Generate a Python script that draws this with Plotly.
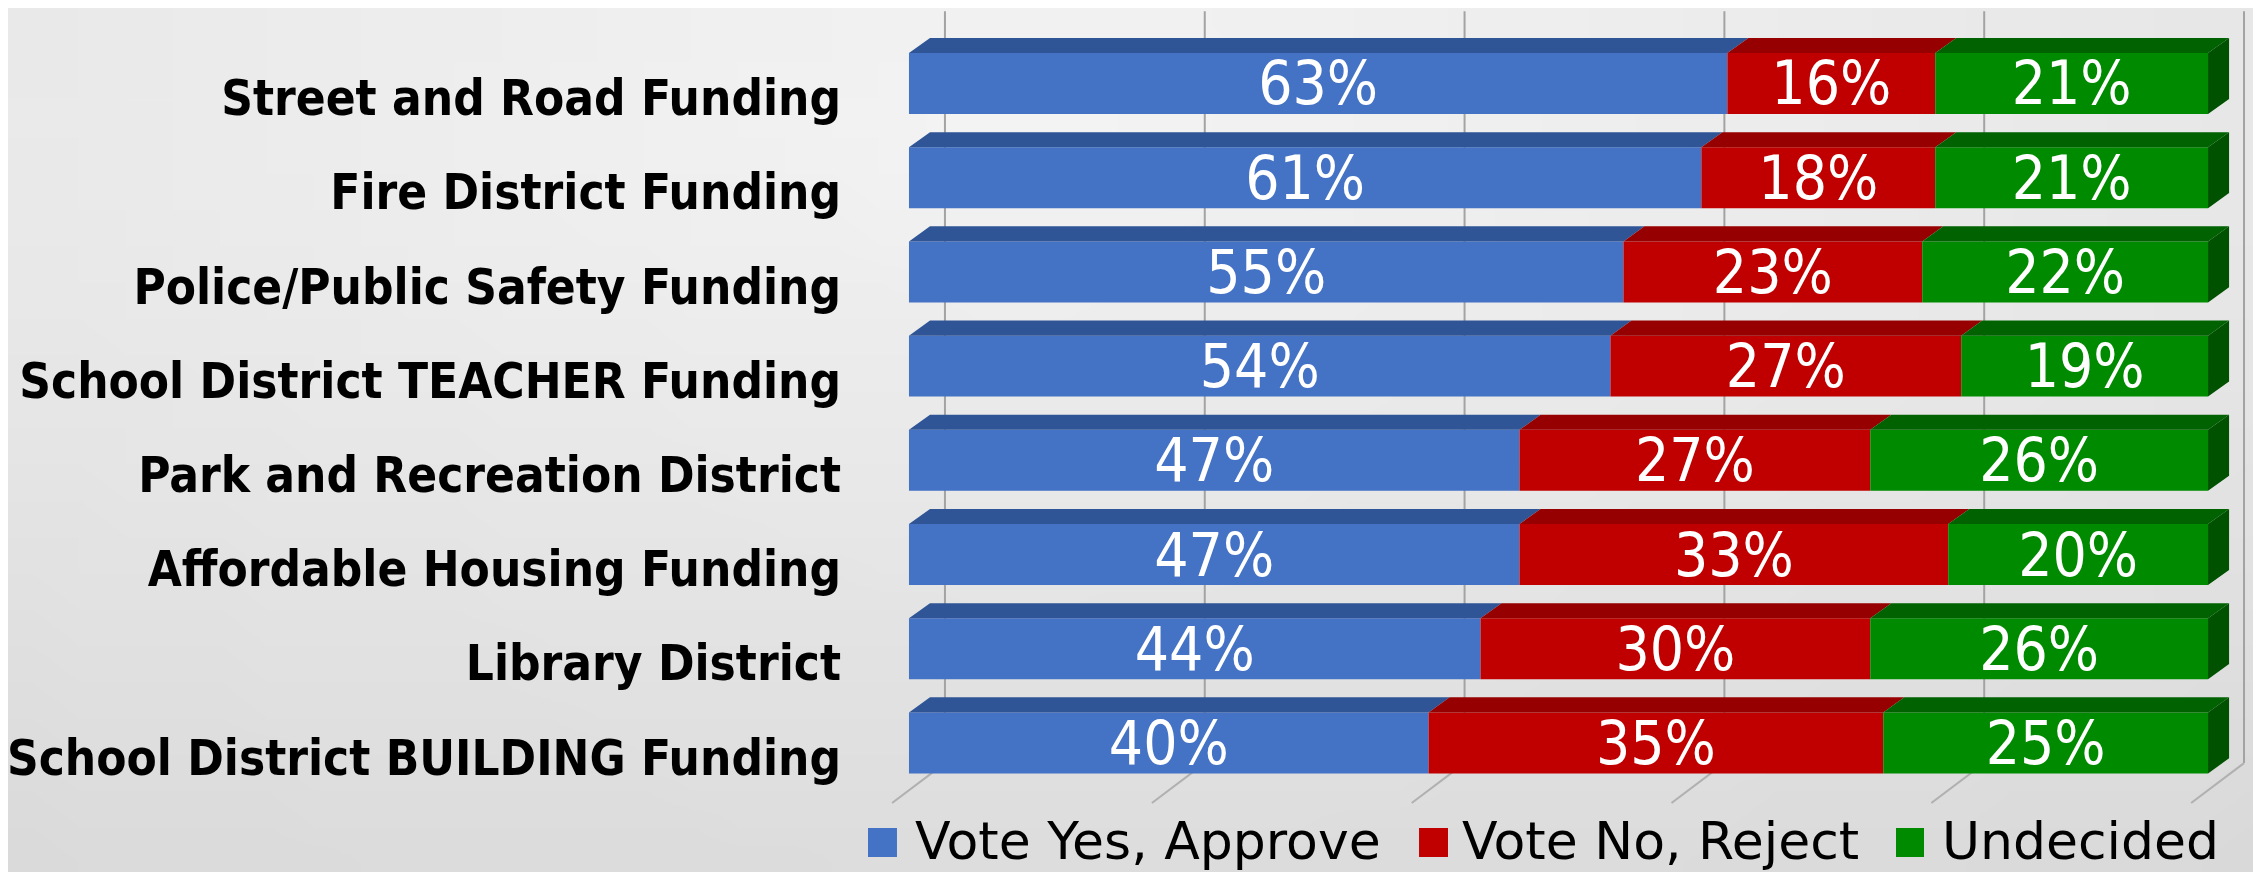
import zlib, struct, base64
import plotly.graph_objects as go

# ---- data ----
categories = ["Street and Road Funding", "Fire District Funding",
              "Police/Public Safety Funding", "School District TEACHER Funding",
              "Park and Recreation District", "Affordable Housing Funding",
              "Library District", "School District BUILDING Funding"]
yes_vals = [63, 61, 55, 54, 47, 47, 44, 40]
no_vals = [16, 18, 23, 27, 27, 33, 30, 35]
undecided_vals = [21, 21, 22, 19, 26, 20, 26, 25]
series_names = ["Vote Yes, Approve", "Vote No, Reject", "Undecided"]
grid_ticks = [0, 20, 40, 60, 80, 100]

# ---- style ----
front_colors = ["#4472C4", "#C00000", "#008A00"]
top_colors = ["#2F5597", "#960000", "#006200"]
side_color = "#005200"
BAR_W = 0.647      # front-face thickness (category units)
BAR_SHIFT = -0.154 # face centre relative to label centre
DEPTH_X = 1.62     # 3D depth offset (value units)
DEPTH_Y = 0.16     # 3D depth offset (category units)
GRID_DX = 2.77
N = len(categories)
pos = list(range(N))
series = [yes_vals, no_vals, undecided_vals]


def gradient_png(w=48, h=24):
    rows = b""
    for j in range(h):
        rows += b"\x00"
        for i in range(w):
            fx, fy = i / (w - 1), j / (h - 1)
            d = ((fx - 0.45) ** 2 * 0.8 + (fy - 0.1) ** 2) ** 0.5
            v = int(round(244 - 26 * d))
            rows += bytes([v, v, v])
    def chunk(t, d):
        c = struct.pack(">I", len(d)) + t + d
        return c + struct.pack(">I", zlib.crc32(t + d) & 0xffffffff)
    png = b"\x89PNG\r\n\x1a\n" + chunk(b"IHDR", struct.pack(">IIBBBBB", w, h, 8, 2, 0, 0, 0))
    png += chunk(b"IDAT", zlib.compress(rows)) + chunk(b"IEND", b"")
    return "data:image/png;base64," + base64.b64encode(png).decode()


fig = go.Figure()

bases = []
acc = [0] * N
for vals in series:
    bases.append(acc[:])
    acc = [a + v for a, v in zip(acc, vals)]

# front faces
for name, vals, base, col in zip(series_names, series, bases, front_colors):
    fig.add_trace(go.Bar(
        x=vals, y=pos, base=base, orientation="h", width=BAR_W,
        offset=BAR_SHIFT - BAR_W / 2, name=name, showlegend=False,
        marker=dict(color=col, line=dict(width=0)),
        text=[f"{v}%" for v in vals], textposition="inside",
        insidetextanchor="middle", constraintext="none",
        textfont=dict(color="white", size=60, family="DejaVu Sans Condensed, DejaVu Sans"),
        hoverinfo="skip"))

# top faces (3D)
for vals, base, col in zip(series, bases, top_colors):
    xs, ys = [], []
    for i, (b, v) in enumerate(zip(base, vals)):
        y0 = i + BAR_SHIFT - BAR_W / 2
        xs += [b, b + v, b + v + DEPTH_X, b + DEPTH_X, b, None]
        ys += [y0, y0, y0 - DEPTH_Y, y0 - DEPTH_Y, y0, None]
    fig.add_trace(go.Scatter(x=xs, y=ys, mode="lines", fill="toself",
                             fillcolor=col, line=dict(width=0, color=col),
                             showlegend=False, hoverinfo="skip"))

# right side face of the last segment
xs, ys = [], []
for i, (b, v) in enumerate(zip(bases[2], undecided_vals)):
    e = b + v
    y0, y1 = i + BAR_SHIFT - BAR_W / 2, i + BAR_SHIFT + BAR_W / 2
    xs += [e, e + DEPTH_X, e + DEPTH_X, e, e, None]
    ys += [y0, y0 - DEPTH_Y, y1 - DEPTH_Y, y1, y0, None]
fig.add_trace(go.Scatter(x=xs, y=ys, mode="lines", fill="toself",
                         fillcolor=side_color, line=dict(width=0, color=side_color),
                         showlegend=False, hoverinfo="skip"))

# gridlines on the back wall + floor slants
shapes = []
for t in grid_ticks:
    shapes.append(dict(type="line", xref="x", yref="y", x0=t + GRID_DX, x1=t + GRID_DX,
                       y0=-0.92, y1=N - 1 + 0.06, layer="below",
                       line=dict(color="#A3A3A3", width=2)))
    shapes.append(dict(type="line", xref="x", yref="y", x0=t + GRID_DX, x1=t - 1.3,
                       y0=N - 1 + 0.06, y1=N - 1 + 0.484, layer="below",
                       line=dict(color="#B0B0B0", width=2)))

# legend (manual, large colour keys)
leg_marker_x = [(-0.0161, 0.0051), (0.3870, 0.4082), (0.7359, 0.7564)]
leg_text_x = [0.0168, 0.4170, 0.7681]
annotations = []
for name, col, (mx0, mx1), tx in zip(series_names, front_colors, leg_marker_x, leg_text_x):
    shapes.append(dict(type="rect", xref="paper", yref="paper", x0=mx0, x1=mx1,
                       y0=-0.0483, y1=-0.0124, fillcolor=col, line=dict(width=0)))
    annotations.append(dict(xref="paper", yref="paper", x=tx, y=-0.0285,
                            xanchor="left", yanchor="middle", showarrow=False, text=name,
                            font=dict(size=52, color="black", family="DejaVu Sans")))

fig.update_layout(
    width=2261, height=872,
    margin=dict(l=882, r=12, t=3, b=62),
    paper_bgcolor="#EAEAEA", plot_bgcolor="rgba(0,0,0,0)",
    barmode="overlay", shapes=shapes, annotations=annotations,
    showlegend=False,
    images=[dict(source=gradient_png(), xref="paper", yref="paper", x=-882 / 1367, y=1 + 3 / 807,
                 sizex=2261 / 1367, sizey=872 / 807, sizing="stretch", layer="below",
                 xanchor="left", yanchor="top")],
    xaxis=dict(range=[-1.46, 103.77], visible=False, fixedrange=True),
    yaxis=dict(range=[7.643, -0.9236], tickmode="array", automargin=False,
               tickvals=pos, ticktext=categories, showgrid=False, zeroline=False,
               showline=False, ticks="", ticklabelstandoff=48,
               tickfont=dict(size=49, color="black",
                             family="DejaVu Sans Condensed, DejaVu Sans", weight="bold")),
)

fig.write_html("out.html")
